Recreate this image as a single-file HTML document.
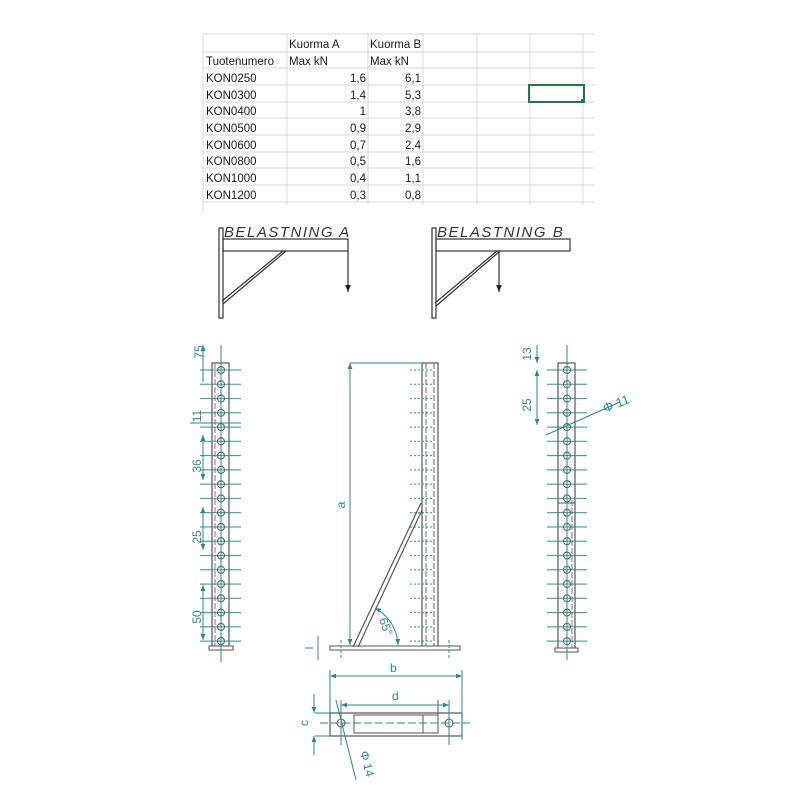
<!DOCTYPE html>
<html><head><meta charset="utf-8"><style>
html,body{margin:0;padding:0;background:#fff}
svg{display:block}
.t{font-family:"Liberation Sans",sans-serif;font-size:11.5px;fill:#1a1a1a}
.g{stroke:#2a8a8a;fill:none;stroke-width:1}
.k{stroke:#555;fill:none;stroke-width:1.2}
.gt{font-family:"Liberation Sans",sans-serif;font-size:12px;fill:#2a8a8a}
</style></head><body>
<svg width="800" height="800" viewBox="0 0 800 800" xmlns="http://www.w3.org/2000/svg">
<defs>
<pattern id="pl" patternUnits="userSpaceOnUse" x="0" y="363" width="800" height="14.27">
<line x1="200" y1="7" x2="241" y2="7" stroke="#2a8a8a" stroke-width="1"/>
<circle cx="221" cy="7" r="3.5" fill="none" stroke="#555" stroke-width="1"/>
</pattern>
<pattern id="pr" patternUnits="userSpaceOnUse" x="0" y="363" width="800" height="14.27">
<line x1="547" y1="7" x2="587" y2="7" stroke="#2a8a8a" stroke-width="1"/>
<circle cx="567" cy="7" r="3.5" fill="none" stroke="#555" stroke-width="1"/>
</pattern>
<pattern id="pm" patternUnits="userSpaceOnUse" x="0" y="363" width="800" height="14.27">
<line x1="410" y1="7" x2="434" y2="7" stroke="#2a8a8a" stroke-width="1" stroke-dasharray="2,2"/>
</pattern>
<marker id="ar" viewBox="0 0 10 10" refX="10" refY="5" markerWidth="6" markerHeight="6" orient="auto-start-reverse"><path d="M0,1 L10,5 L0,9z" fill="#2a8a8a"/></marker>
<marker id="ak" viewBox="0 0 10 10" refX="10" refY="5" markerWidth="6" markerHeight="6" orient="auto"><path d="M0,1 L10,5 L0,9z" fill="#222"/></marker>
</defs>

<!-- table grid -->
<g stroke="#d8d8d8" stroke-width="1">
<line x1="203" y1="34" x2="595" y2="34"/><line x1="203" y1="52" x2="595" y2="52"/>
<line x1="203" y1="68" x2="595" y2="68"/><line x1="203" y1="85" x2="595" y2="85"/>
<line x1="203" y1="102" x2="595" y2="102"/><line x1="203" y1="118" x2="595" y2="118"/>
<line x1="203" y1="135" x2="595" y2="135"/><line x1="203" y1="152" x2="595" y2="152"/>
<line x1="203" y1="168" x2="595" y2="168"/><line x1="203" y1="185" x2="595" y2="185"/>
<line x1="203" y1="202" x2="595" y2="202"/>
<line x1="203" y1="34" x2="203" y2="212"/><line x1="287" y1="34" x2="287" y2="205"/>
<line x1="368" y1="34" x2="368" y2="205"/><line x1="423" y1="34" x2="423" y2="205"/>
<line x1="477" y1="34" x2="477" y2="205"/><line x1="530" y1="34" x2="530" y2="205"/>
<line x1="583" y1="34" x2="583" y2="205"/>
</g>
<rect x="529" y="85" width="55" height="17" fill="none" stroke="#1f7a3f" stroke-width="2"/>
<rect x="581" y="99" width="4" height="4" fill="#1f7a3f"/>
<g class="t">
<text x="289" y="48">Kuorma A</text><text x="370" y="48">Kuorma B</text>
<text x="206" y="65">Tuotenumero</text><text x="289" y="65">Max kN</text><text x="370" y="65">Max kN</text>
<text x="206" y="82">KON0250</text><text x="206" y="99">KON0300</text><text x="206" y="115">KON0400</text>
<text x="206" y="132">KON0500</text><text x="206" y="149">KON0600</text><text x="206" y="165">KON0800</text>
<text x="206" y="182">KON1000</text><text x="206" y="199">KON1200</text>
</g>
<g class="t" text-anchor="end">
<text x="366" y="82">1,6</text><text x="421" y="82">6,1</text>
<text x="366" y="99">1,4</text><text x="421" y="99">5,3</text>
<text x="366" y="115">1</text><text x="421" y="115">3,8</text>
<text x="366" y="132">0,9</text><text x="421" y="132">2,9</text>
<text x="366" y="149">0,7</text><text x="421" y="149">2,4</text>
<text x="366" y="165">0,5</text><text x="421" y="165">1,6</text>
<text x="366" y="182">0,4</text><text x="421" y="182">1,1</text>
<text x="366" y="199">0,3</text><text x="421" y="199">0,8</text>
</g>

<!-- Belastning -->
<g stroke="#333" stroke-width="1.2" fill="none">
<rect x="219" y="228" width="4" height="90"/>
<rect x="223" y="239" width="125" height="12"/>
<line x1="222" y1="301" x2="283" y2="251"/><line x1="223" y1="304" x2="286" y2="251"/>
<line x1="348" y1="251" x2="348" y2="292" marker-end="url(#ak)"/>
<rect x="432" y="228" width="4" height="90"/>
<rect x="436" y="239" width="134" height="12"/>
<line x1="435" y1="303" x2="497" y2="251"/><line x1="436" y1="306" x2="500" y2="251"/>
<line x1="499" y1="251" x2="499" y2="292" marker-end="url(#ak)"/>
</g>
<text x="224" y="237" font-family="Liberation Sans,sans-serif" font-size="15" font-style="italic" fill="#333" letter-spacing="1.5">BELASTNING  A</text>
<text x="437" y="237" font-family="Liberation Sans,sans-serif" font-size="15" font-style="italic" fill="#333" letter-spacing="1.5">BELASTNING  B</text>

<!-- Left column -->
<rect x="212" y="363" width="17" height="283" fill="#fff" stroke="#555" stroke-width="1.2"/>
<line x1="215" y1="363" x2="215" y2="646" stroke="#777" stroke-dasharray="6,2"/>
<rect x="200" y="363" width="42" height="285" fill="url(#pl)"/>
<rect x="209" y="646" width="24" height="4" fill="#fff" stroke="#555"/>
<line x1="221" y1="345" x2="221" y2="662" class="g"/>
<g class="g">
<line x1="203" y1="345" x2="203" y2="382" marker-start="url(#ar)"/>
<line x1="203" y1="435" x2="203" y2="480" marker-start="url(#ar)" marker-end="url(#ar)"/>
<line x1="203" y1="507" x2="203" y2="550" marker-start="url(#ar)" marker-end="url(#ar)"/>
<line x1="203" y1="585" x2="203" y2="640" marker-start="url(#ar)" marker-end="url(#ar)"/>
<line x1="190" y1="423" x2="241" y2="423"/>
</g>
<g class="gt">
<text transform="translate(203,352) rotate(-90)" text-anchor="middle">75</text>
<text transform="translate(201,416) rotate(-90)" text-anchor="middle">11</text>
<text transform="translate(201,466) rotate(-90)" text-anchor="middle">36</text>
<text transform="translate(201,537) rotate(-90)" text-anchor="middle">25</text>
<text transform="translate(201,617) rotate(-90)" text-anchor="middle">50</text>
</g>

<!-- Middle -->
<rect x="422" y="363" width="16" height="284" fill="#fff" stroke="#555" stroke-width="1.2"/>
<line x1="426" y1="363" x2="426" y2="646" stroke="#666" stroke-dasharray="6,2"/>
<line x1="434" y1="363" x2="434" y2="646" stroke="#666" stroke-dasharray="6,2"/>
<rect x="408" y="363" width="30" height="285" fill="url(#pm)"/>
<rect x="330" y="646" width="130" height="4" fill="#fff" stroke="#555"/>
<line x1="353" y1="647" x2="421" y2="503" class="k"/>
<line x1="358" y1="647" x2="422" y2="510" class="k"/>
<g class="g">
<line x1="350" y1="363" x2="422" y2="363"/>
<line x1="350" y1="363" x2="350" y2="645" marker-start="url(#ar)" marker-end="url(#ar)"/>
<path d="M375,608 A44,44 0 0 1 398,645" marker-start="url(#ar)" marker-end="url(#ar)"/>
<line x1="318" y1="636" x2="318" y2="660"/>
<line x1="305" y1="648" x2="313" y2="648"/>
<line x1="341" y1="640" x2="341" y2="658" stroke-dasharray="3,2"/>
<line x1="449" y1="640" x2="449" y2="658" stroke-dasharray="3,2"/>
</g>
<text transform="translate(345,505) rotate(-90)" class="gt" text-anchor="middle">a</text>
<text transform="translate(382,628) rotate(70)" class="gt" text-anchor="middle">65°</text>
<text x="390" y="672" class="gt">b</text>

<!-- Right column -->
<rect x="558" y="363" width="17" height="287" fill="#fff" stroke="#555" stroke-width="1.2"/>
<line x1="572" y1="500" x2="572" y2="650" stroke="#777" stroke-dasharray="6,2"/>
<line x1="558" y1="503" x2="575" y2="503" stroke="#555"/>
<rect x="547" y="363" width="41" height="285" fill="url(#pr)"/>
<rect x="555" y="648" width="23" height="4" fill="#fff" stroke="#555"/>
<line x1="567" y1="345" x2="567" y2="660" class="g"/>
<g class="g">
<line x1="537" y1="345" x2="537" y2="363" marker-end="url(#ar)"/>
<line x1="537" y1="370" x2="537" y2="425" marker-start="url(#ar)" marker-end="url(#ar)"/>
<line x1="546" y1="435" x2="620" y2="402"/>
</g>
<g class="gt">
<text transform="translate(531,354) rotate(-90)" text-anchor="middle">13</text>
<text transform="translate(531,405) rotate(-90)" text-anchor="middle">25</text>
<text transform="translate(605,413) rotate(-22)" font-size="13">Φ 11</text>
</g>

<!-- Bottom view -->
<rect x="330" y="713" width="132" height="23" fill="#fff" stroke="#555" stroke-width="1.2"/>
<rect x="354" y="715" width="84" height="18" fill="none" stroke="#555"/>
<line x1="423" y1="715" x2="423" y2="733" stroke="#555"/>
<line x1="438" y1="715" x2="438" y2="700" stroke="#555"/>
<circle cx="341" cy="723" r="4" fill="none" stroke="#555"/>
<circle cx="449" cy="723" r="4" fill="none" stroke="#555"/>
<g class="g">
<line x1="320" y1="723" x2="470" y2="723" stroke-dasharray="8,3"/>
<line x1="330" y1="670" x2="330" y2="713"/><line x1="462" y1="670" x2="462" y2="740"/>
<line x1="330" y1="676" x2="462" y2="676" marker-start="url(#ar)" marker-end="url(#ar)"/>
<line x1="341" y1="700" x2="341" y2="745"/><line x1="449" y1="700" x2="449" y2="745"/>
<line x1="341" y1="705" x2="449" y2="705" marker-start="url(#ar)" marker-end="url(#ar)"/>
<line x1="315" y1="713" x2="330" y2="713"/><line x1="315" y1="736" x2="330" y2="736"/>
<line x1="314" y1="694" x2="314" y2="713" marker-end="url(#ar)"/>
<line x1="314" y1="755" x2="314" y2="736" marker-end="url(#ar)"/>
<line x1="336" y1="700" x2="356" y2="780"/>
</g>
<text x="392" y="700" class="gt">d</text>
<text transform="translate(308,723) rotate(-90)" class="gt" text-anchor="middle">c</text>
<text transform="translate(360,752) rotate(76)" class="gt">Φ 14</text>
</svg>
</body></html>
